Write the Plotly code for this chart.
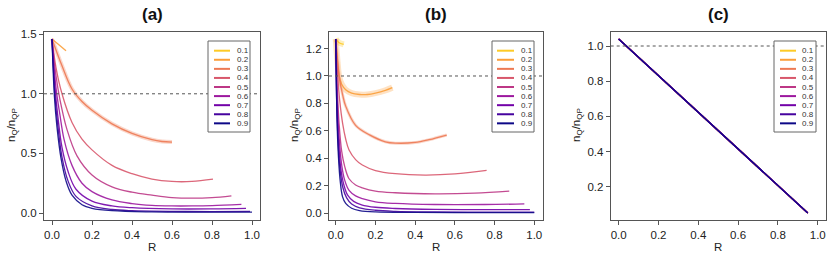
import plotly.graph_objects as go

W, H = 831, 259
levels = ["0.1", "0.2", "0.3", "0.4", "0.5", "0.6", "0.7", "0.8", "0.9"]
colors = ["#fdca26", "#fb9f3a", "#ed7953", "#d8576b", "#bd3786",
          "#9c179e", "#7201a8", "#46039f", "#0d0887"]

# ---------- panel (a) ----------
a_R = {
    "0.2": [0, 0.07],
    "0.3": [0, 0.05, 0.1, 0.15, 0.2, 0.3, 0.4, 0.5, 0.55, 0.6],
    "0.4": [0, 0.02, 0.05, 0.1, 0.15, 0.2, 0.3, 0.4, 0.5, 0.6, 0.7, 0.805],
    "0.5": [0, 0.02, 0.04, 0.075, 0.125, 0.2, 0.3, 0.4, 0.5, 0.6, 0.7, 0.8, 0.897],
    "0.6": [0, 0.02, 0.04, 0.06, 0.1, 0.15, 0.2, 0.3, 0.4, 0.5, 0.6, 0.7, 0.8, 0.947],
    "0.7": [0, 0.015, 0.03, 0.05, 0.08, 0.12, 0.2, 0.3, 0.4, 0.6, 0.8, 0.97],
    "0.8": [0, 0.015, 0.03, 0.05, 0.08, 0.12, 0.2, 0.3, 0.4, 0.6, 0.8, 0.99],
    "0.9": [0, 0.012, 0.025, 0.045, 0.07, 0.1, 0.15, 0.2, 0.3, 0.5, 0.75, 1.0],
}
a_Y = {
    "0.2": [1.46, 1.36],
    "0.3": [1.46, 1.235, 1.04, 0.935, 0.862, 0.748, 0.668, 0.615, 0.6, 0.595],
    "0.4": [1.46, 1.22, 1.0, 0.76, 0.62, 0.53, 0.40, 0.33, 0.285, 0.265, 0.265, 0.284],
    "0.5": [1.46, 1.15, 0.95, 0.70, 0.48, 0.32, 0.22, 0.175, 0.15, 0.13, 0.125, 0.13, 0.145],
    "0.6": [1.46, 1.05, 0.82, 0.62, 0.40, 0.25, 0.18, 0.11, 0.08, 0.065, 0.06, 0.06, 0.063, 0.073],
    "0.7": [1.46, 1.05, 0.80, 0.55, 0.35, 0.20, 0.10, 0.06, 0.045, 0.035, 0.035, 0.039],
    "0.8": [1.46, 0.98, 0.72, 0.47, 0.27, 0.14, 0.06, 0.03, 0.02, 0.014, 0.013, 0.015],
    "0.9": [1.46, 0.98, 0.72, 0.46, 0.27, 0.15, 0.07, 0.04, 0.02, 0.01, 0.008, 0.008],
}
a_band = {"0.3": 4}

# ---------- panel (b) ----------
b_R = {
    "0.1": [0, 0.015, 0.04],
    "0.2": [0, 0.008, 0.017, 0.03, 0.05, 0.08, 0.12, 0.16, 0.2, 0.25, 0.285],
    "0.3": [0, 0.01, 0.02, 0.035, 0.05, 0.1, 0.17, 0.25, 0.3, 0.4, 0.47, 0.559],
    "0.4": [0, 0.01, 0.02, 0.035, 0.05, 0.067, 0.1, 0.134, 0.2, 0.3, 0.45, 0.6, 0.76],
    "0.5": [0, 0.008, 0.017, 0.03, 0.045, 0.067, 0.1, 0.134, 0.2, 0.3, 0.5, 0.7, 0.874],
    "0.6": [0, 0.008, 0.017, 0.03, 0.045, 0.067, 0.1, 0.134, 0.2, 0.3, 0.5, 0.75, 0.95],
    "0.7": [0, 0.006, 0.013, 0.025, 0.04, 0.06, 0.09, 0.13, 0.2, 0.3, 0.5, 0.75, 0.978],
    "0.8": [0, 0.005, 0.011, 0.02, 0.035, 0.055, 0.08, 0.12, 0.2, 0.3, 0.5, 0.75, 1.0],
    "0.9": [0, 0.004, 0.008, 0.014, 0.022, 0.034, 0.05, 0.08, 0.12, 0.2, 0.4, 0.7, 1.0],
}
b_Y = {
    "0.1": [1.27, 1.245, 1.23],
    "0.2": [1.27, 1.12, 1.0, 0.94, 0.90, 0.875, 0.865, 0.865, 0.875, 0.895, 0.915],
    "0.3": [1.27, 1.1, 0.97, 0.86, 0.78, 0.64, 0.57, 0.52, 0.51, 0.515, 0.535, 0.569],
    "0.4": [1.27, 1.0, 0.82, 0.65, 0.54, 0.46, 0.39, 0.35, 0.31, 0.287, 0.277, 0.285, 0.311],
    "0.5": [1.27, 0.9, 0.65, 0.45, 0.34, 0.25, 0.205, 0.184, 0.16, 0.148, 0.14, 0.145, 0.16],
    "0.6": [1.27, 0.8, 0.55, 0.35, 0.24, 0.165, 0.125, 0.105, 0.082, 0.07, 0.062, 0.062, 0.066],
    "0.7": [1.27, 0.8, 0.55, 0.33, 0.21, 0.13, 0.085, 0.06, 0.042, 0.033, 0.026, 0.024, 0.025],
    "0.8": [1.27, 0.8, 0.55, 0.34, 0.19, 0.11, 0.065, 0.038, 0.02, 0.012, 0.008, 0.007, 0.007],
    "0.9": [1.27, 0.85, 0.6, 0.4, 0.24, 0.12, 0.07, 0.035, 0.018, 0.008, 0.004, 0.003, 0.003],
}
b_band = {"0.1": 6, "0.2": 6, "0.3": 3}

# ---------- panel (c) ----------
c_R = {lv: [0, 0.95] for lv in levels}
c_Y = {lv: [1.04, 0.05] for lv in levels}

a_yticks = [0, 0.5, 1.0, 1.5]
b_yticks = [0, 0.2, 0.4, 0.6, 0.8, 1.0, 1.2]
c_yticks = [0.2, 0.4, 0.6, 0.8, 1.0]
xticks = [0, 0.2, 0.4, 0.6, 0.8, 1.0]
titles = ["(a)", "(b)", "(c)"]


def hex2rgba(h, a):
    h = h.lstrip("#")
    return "rgba(%d,%d,%d,%.2f)" % (int(h[0:2], 16), int(h[2:4], 16), int(h[4:6], 16), a)


fig = go.Figure()
panels = [(a_R, a_Y, a_band, "x", "y"), (b_R, b_Y, b_band, "x2", "y2"), (c_R, c_Y, {}, "x3", "y3")]
for R, Y, band, xa, ya in panels:
    for lv, col in zip(levels, colors):
        if lv not in R:
            continue
        if lv in band:
            fig.add_trace(go.Scatter(x=R[lv], y=Y[lv], mode="lines", xaxis=xa, yaxis=ya,
                                     line=dict(color=hex2rgba(col, 0.3), width=band[lv], shape="spline"),
                                     showlegend=False, hoverinfo="skip"))
        fig.add_trace(go.Scatter(x=R[lv], y=Y[lv], mode="lines", xaxis=xa, yaxis=ya,
                                 line=dict(color=hex2rgba(col, 0.9), width=1.3, shape="spline"),
                                 showlegend=False, name=lv))

# geometry (pixels)
boxes = [(44, 260), (329, 543), (610.7, 825.7)]
ytop, ybot = 32, 220
xranges = [[-0.04, 1.04], [-0.034, 1.044], [-0.04, 1.04]]
yranges = [[-0.058, 1.518], [-0.051, 1.321], [0.0104, 1.0796]]
yticks_all = [a_yticks, b_yticks, c_yticks]

axcommon = dict(showline=True, linecolor="#555", linewidth=1, mirror=True, ticks="outside",
                ticklen=4, tickcolor="#555", showgrid=False, zeroline=False, automargin=False,
                tickfont=dict(family="Liberation Sans, Arial", size=11.5, color="#222"))
layout = dict(width=W, height=H, margin=dict(l=0, r=0, t=0, b=0, autoexpand=False),
              template="none",
              paper_bgcolor="white", plot_bgcolor="white", showlegend=False)
for i in range(3):
    sfx = "" if i == 0 else str(i + 1)
    layout["xaxis" + sfx] = dict(axcommon, domain=[boxes[i][0] / W, boxes[i][1] / W],
                                 range=xranges[i], tickvals=xticks,
                                 ticktext=["%.1f" % t for t in xticks],
                                 anchor="y" + sfx)
    layout["yaxis" + sfx] = dict(axcommon, domain=[1 - ybot / H, 1 - ytop / H],
                                 range=yranges[i], tickvals=yticks_all[i],
                                 ticktext=["%.1f" % t for t in yticks_all[i]],
                                 anchor="x" + sfx)
fig.update_layout(**layout)

shapes, annots = [], []
ylab_x = [12, 295, 577]
for i in range(3):
    sfx = "" if i == 0 else str(i + 1)
    shapes.append(dict(type="line", xref="x%s domain" % sfx, yref="y" + sfx, x0=0, x1=1, y0=1, y1=1,
                       line=dict(color="#555", width=1, dash="dot")))
    cx = (boxes[i][0] + boxes[i][1]) / 2
    annots.append(dict(text="<b>%s</b>" % titles[i], x=cx / W, y=1 - 15 / H, xref="paper", yref="paper",
                       xanchor="center", yanchor="middle", showarrow=False,
                       font=dict(family="Liberation Sans, Arial", size=17, color="#111")))
    annots.append(dict(text="R", x=cx / W, y=1 - 247 / H, xref="paper", yref="paper", showarrow=False,
                       xanchor="center", yanchor="middle",
                       font=dict(family="Liberation Sans, Arial", size=11.5, color="#222")))
    annots.append(dict(text="n<sub>Q</sub>/n<sub>QP</sub>", x=ylab_x[i] / W, y=1 - 125 / H,
                       xref="paper", yref="paper", showarrow=False, textangle=-90,
                       xanchor="center", yanchor="middle",
                       font=dict(family="Liberation Sans, Arial", size=11.5, color="#222")))

# legends
leg_boxes = [(208, 250, 214, 230, 235), (492, 534, 497, 514, 519), (774, 816, 780, 796, 800)]
for bx0, bx1, lx0, lx1, tx in leg_boxes:
    shapes.append(dict(type="rect", xref="paper", yref="paper", x0=bx0 / W, x1=bx1 / W,
                       y0=1 - 132 / H, y1=1 - 41 / H, line=dict(color="#666", width=1),
                       fillcolor="white", layer="above"))
    for k, (lv, col) in enumerate(zip(levels, colors)):
        yy = 50.7 + k * 9.08
        shapes.append(dict(type="line", xref="paper", yref="paper", x0=lx0 / W, x1=lx1 / W,
                           y0=1 - yy / H, y1=1 - yy / H, line=dict(color=col, width=2), layer="above"))
        annots.append(dict(text=lv, x=tx / W, y=1 - yy / H, xref="paper", yref="paper",
                           xanchor="left", yanchor="middle", showarrow=False,
                           font=dict(family="Liberation Sans, Arial", size=8, color="#333")))

fig.update_layout(shapes=shapes, annotations=annots)
fig.write_html("out.html", config={"displayModeBar": False},
               post_script="document.body.style.margin='0';document.body.style.overflow='hidden';")
